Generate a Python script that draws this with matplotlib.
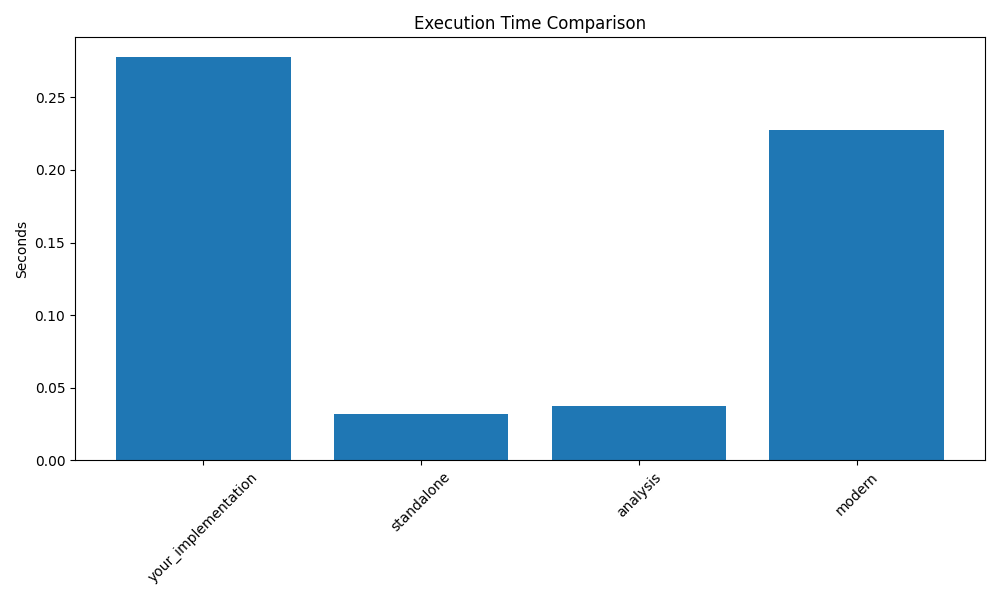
import matplotlib
matplotlib.use("Agg")
import matplotlib.pyplot as plt

implementations = ["your_implementation", "standalone", "analysis", "modern"]
seconds = [0.2775, 0.0317, 0.0372, 0.2273]

fig, ax = plt.subplots(figsize=(10, 6), dpi=100)
ax.bar(implementations, seconds)
ax.set_title("Execution Time Comparison")
ax.set_ylabel("Seconds")
plt.xticks(rotation=45)
plt.tight_layout()
plt.savefig("out.png")
plt.close("all")
